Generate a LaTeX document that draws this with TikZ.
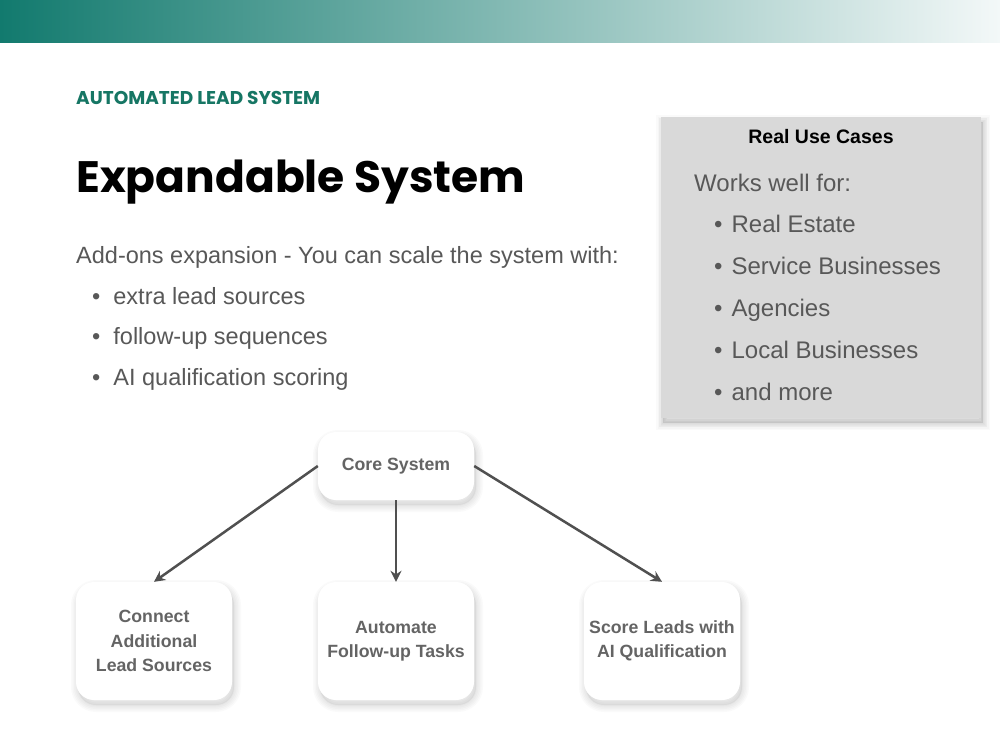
\documentclass[tikz,border=0pt]{standalone}
\usepackage{fontspec}
\setmainfont{Liberation Sans}
\newfontfamily\poppins{Poppins}
\usetikzlibrary{arrows.meta, positioning, shadows}
\definecolor{barteal}{RGB}{18,122,110}
\definecolor{barpale}{RGB}{243,248,248}
\definecolor{headteal}{RGB}{22,118,100}
\definecolor{bodygray}{RGB}{88,88,88}
\definecolor{boxtext}{RGB}{100,100,100}
\definecolor{panelgray}{RGB}{217,217,217}
\definecolor{arrowgray}{RGB}{80,80,80}

\begin{document}
\begin{tikzpicture}[
    x=1pt, y=-1pt,
    >=Stealth,
    % blurred shadow built from thin translucent rings
    blurlayer/.style={general shadow={draw=black, line width=#1, opacity=0.018,
            shadow xshift=2pt, shadow yshift=-5pt}},
    softshadow/.style={
        blurlayer=14pt, blurlayer=11pt, blurlayer=8pt, blurlayer=5pt, blurlayer=2pt,
        general shadow={fill=black, opacity=0.05, shadow xshift=2pt, shadow yshift=-5pt}},
    panelshadow/.style={
        blurlayer=14pt, blurlayer=11pt, blurlayer=8pt, blurlayer=5pt, blurlayer=2pt,
        blurlayer=8pt, blurlayer=4pt,
        general shadow={fill=black, opacity=0.1, shadow xshift=2pt, shadow yshift=-5pt}},
    stepbox/.style={fill=white, rounded corners=18pt, minimum width=156pt,
        align=center, text=boxtext, font=\fontsize{17.7}{24.5}\selectfont\bfseries,
        softshadow},
    flow/.style={-{Stealth[length=11pt, width=11pt]}, line width=2.5pt, arrowgray},
    bodytext/.style={anchor=base west, inner sep=0pt, text=bodygray,
        font=\fontsize{23.5}{27}\selectfont},
    paneltext/.style={anchor=base west, inner sep=0pt, text=bodygray,
        font=\fontsize{24}{28}\selectfont},
]

%--- Page frame ---
\useasboundingbox (0,0) rectangle (1000,750);
\fill[white] (0,0) rectangle (1000,750);

%============================================================
% Header bar
%============================================================
\shade[left color=barteal, right color=barpale] (0,0) rectangle (1000,42);

%============================================================
% Titles
%============================================================
\node[anchor=base west, inner sep=0pt, text=headteal,
    font=\poppins\bfseries\fontsize{18.5}{20}\selectfont] (kicker) at (76,104)
    {AUTOMATED LEAD SYSTEM};
\node[anchor=base west, inner sep=0pt, text=black,
    font=\poppins\bfseries\fontsize{44}{50}\selectfont] (title) at (76,192)
    {Expandable System};

%============================================================
% Add-ons list
%============================================================
\node[bodytext] (intro) at (76,263) {Add-ons expansion - You can scale the system with:};
\node[bodytext] (addA) at (92,304) {\textbullet\hspace{13pt}extra lead sources};
\node[bodytext] (addB) at (92,344) {\textbullet\hspace{13pt}follow-up sequences};
\node[bodytext] (addC) at (92,385) {\textbullet\hspace{13pt}AI qualification scoring};

%============================================================
% Use cases panel
%============================================================
\fill[panelgray, panelshadow] (661,117) rectangle (981,418);
\node[anchor=base, inner sep=0pt, text=black,
    font=\fontsize{19.5}{22}\selectfont\bfseries] (usecases) at (821,143) {Real Use Cases};
\node[paneltext] (works) at (694,191) {Works well for:};
\node[paneltext] (caseA) at (714,232) {\textbullet\hspace{9pt}Real Estate};
\node[paneltext] (caseB) at (714,274) {\textbullet\hspace{9pt}Service Businesses};
\node[paneltext] (caseC) at (714,316) {\textbullet\hspace{9pt}Agencies};
\node[paneltext] (caseD) at (714,358) {\textbullet\hspace{9pt}Local Businesses};
\node[paneltext] (caseE) at (714,400) {\textbullet\hspace{9pt}and more};

%============================================================
% Expansion diagram
%============================================================
\node[stepbox, minimum height=68pt] (core) at (396,466) {Core System};
\node[stepbox, minimum height=118pt] (sources) at (154,641)
    {Connect\\Additional\\Lead Sources};
\node[stepbox, minimum height=118pt] (followup) at (396,641)
    {Automate\\Follow-up Tasks};
\node[stepbox, minimum height=118pt] (scoring) at (662,641)
    {Score Leads with\\AI Qualification};

\draw[flow] (core.west) -- (sources.north);
\draw[flow] (core.south) -- (followup.north);
\draw[flow] (core.east) -- (scoring.north);

\end{tikzpicture}
\end{document}
